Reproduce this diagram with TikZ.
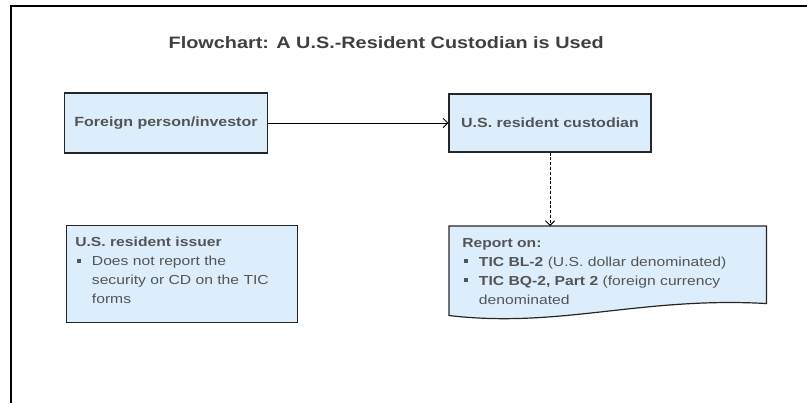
\documentclass[tikz,border=0pt]{standalone}
\usepackage{fontspec}
\setmainfont[FakeStretch=1.2]{Liberation Sans}
\usepackage{tikz}
\usetikzlibrary{arrows.meta}

\definecolor{boxblue}{HTML}{DCEEFC}
\definecolor{inkgray}{HTML}{545454}
\newcommand{\sqbullet}{\makebox[12.5pt][l]{\hspace{1.2pt}\rule[2.3pt]{3pt}{3pt}}}

\begin{document}
\begin{tikzpicture}[x=0.75pt, y=-0.75pt, >={Straight Barb[length=3.5pt, width=7pt]},
  boxnode/.style={draw=black!85, line width=0.9pt, fill=boxblue, text=inkgray, font=\fontsize{10}{14}\selectfont\bfseries},
  bodytext/.style={inner sep=0pt, text=inkgray, align=left, font=\fontsize{9.8}{14.2}\selectfont}]
\useasboundingbox (0, 0) rectangle (807, 403);
\draw [line width=1.5pt] (807, 6) -- (11, 6) -- (11, 403);
\node [anchor=base west, text=black!75, font=\fontsize{12.4}{15}\selectfont\bfseries] (title) at (164, 49) {Flowchart: A U.S.-Resident Custodian is Used};
\node [boxnode, minimum width=152.25pt, minimum height=45pt] (investor) at (166, 123) {Foreign person/investor};
\node [boxnode, minimum width=151.5pt, minimum height=43.5pt] (custodian) at (550, 123) {U.S. resident custodian};
\draw [->, line width=0.7pt] (investor) -- (custodian);
\node [boxnode, minimum width=173.25pt, minimum height=72.75pt, anchor=north west] (issuer) at (66, 225) {};
\node [bodytext, anchor=north west] (issuertext) at (75, 237) {\textbf{U.S. resident issuer}\\ \sqbullet Does not report the\\ \hspace*{12.5pt}security or CD on the TIC\\ \hspace*{12.5pt}forms};
\node [inner sep=0pt, minimum width=237.75pt, minimum height=57.75pt, anchor=north west] (report) at (449, 226) {};
\draw [draw=black!85, line width=0.9pt, fill=boxblue] (report.north west) -- (report.north east) -- (report.south east) .. controls +(-126, -7) and +(111, 13) .. ([yshift=-9pt]report.south west) -- cycle;
\node [bodytext, anchor=north west] (reporttext) at (462, 238) {\textbf{Report on:}\\ \sqbullet\textbf{TIC BL-2} (U.S. dollar denominated)\\ \sqbullet\textbf{TIC BQ-2, Part 2} (foreign currency\\ \hspace*{12.5pt}denominated};
\draw [->, line width=0.7pt, dash pattern=on 2.2pt off 1.4pt] (custodian.south) -- (custodian.south |- report.north);
\end{tikzpicture}
\end{document}
